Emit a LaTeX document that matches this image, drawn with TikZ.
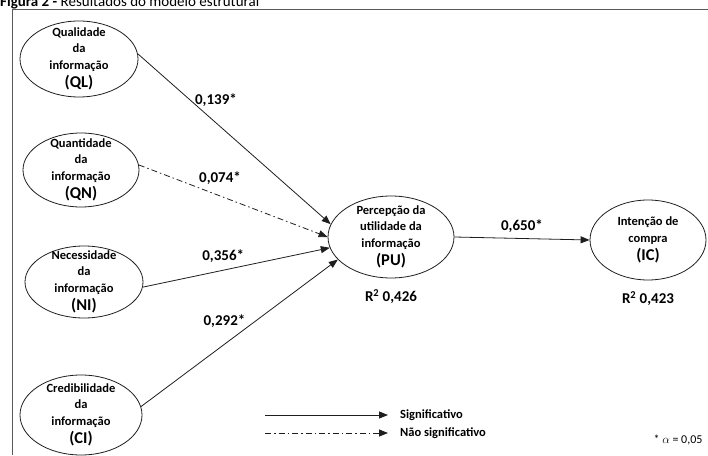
\documentclass[tikz,border=0pt]{standalone}
\usepackage{fontspec}
\setmainfont{Carlito}
\usepackage{tikz}
\usetikzlibrary{positioning,shapes.geometric,arrows.meta}
\definecolor{linegray}{HTML}{1E1E1E}
\definecolor{framegray}{HTML}{5A5A5A}
\newcommand{\abbr}[1]{{\fontsize{16.5}{18}\selectfont(#1)}}
\tikzset{
  % --- latent constructs (ellipses) ---
  construct/.style={ellipse, draw=linegray, line width=0.8pt, align=center,
                    font=\bfseries\fontsize{12.5}{16.5}\selectfont,
                    inner xsep=0pt, inner ysep=-9pt},
  % --- structural paths ---
  sig/.style={line width=0.8pt, draw=linegray,
              -{Triangle[length=9pt,width=7pt]}},
  nonsig/.style={sig, dash pattern=on 6pt off 3pt on 1.5pt off 3pt},
  coef/.style={font=\bfseries\fontsize{15}{17}\selectfont, inner sep=0pt},
  rsq/.style={font=\bfseries\fontsize{15}{17}\selectfont, inner sep=0pt},
  legtext/.style={font=\bfseries\fontsize{12.5}{14}\selectfont, inner sep=0pt},
}

\begin{document}
\begin{tikzpicture}[x=1pt, y=1pt]
  \useasboundingbox (0,0) rectangle (708,455);
  % --- title and frame ---
  \node[anchor=base west, inner sep=0pt, font=\fontsize{15}{17}\selectfont] (title)
        at (0,448) {\textbf{Figura 2 -} Resultados do modelo estrutural};
  \draw[framegray, line width=1pt] (12,0) -- (12,445) -- (708,445);

  % --- exogenous constructs (left column) ---
  \node[construct, minimum width=118pt, minimum height=76pt] (ql) at (79,396)
        {Qualidade\\da\\informação\\[2pt]\abbr{QL}};
  \node[construct, minimum width=116pt, minimum height=74pt] (qn) at (81,285)
        {Quantidade\\da\\informação\\[2pt]\abbr{QN}};
  \node[construct, minimum width=118pt, minimum height=72pt] (ni) at (84,173)
        {Necessidade\\da\\informação\\[2pt]\abbr{NI}};
  \node[construct, minimum width=122pt, minimum height=80pt] (ci) at (81,40)
        {Credibilidade\\da\\informação\\[2pt]\abbr{CI}};

  % --- endogenous constructs ---
  \node[construct, minimum width=126pt, minimum height=82pt] (pu) at (391,218)
        {Percepção da\\utilidade da\\informação\\[2pt]\abbr{PU}};
  \node[construct, minimum width=116pt, minimum height=80pt] (ic) at (648,215)
        {Intenção de\\compra\\[2pt]\abbr{IC}};
  \node[rsq, below=11pt of pu] (rpu) {R\textsuperscript{2} 0,426};
  \node[rsq, below=11pt of ic] (ric) {R\textsuperscript{2} 0,423};

  % --- paths into PU ---
  \draw[sig]    (ql.5)   -- (pu.168) node[coef, pos=0.405, yshift=23pt] {0,139*};
  \draw[nonsig] (qn.5)   -- (pu.180) node[coef, pos=0.43, yshift=18pt] {0,074*};
  \draw[sig]    (ni.355) -- (pu.190) node[coef, pos=0.43, yshift=14pt] {0,356*};
  \draw[sig]    (ci.8)   -- (pu.203) node[coef, pos=0.424, yshift=23pt] {0,292*};
  \draw[sig]    (pu.east) -- (ic.west) node[coef, pos=0.5, yshift=12pt] {0,650*};

  % --- legend ---
  \coordinate (l1) at (265,40);
  \coordinate (l2) at (265,22);
  \node[legtext, anchor=west] (lsig) at (400,40) {Significativo};
  \node[legtext, anchor=west] (lnon) at (400,22) {Não significativo};
  \draw[sig]    (l1) -- ([xshift=-12pt]lsig.west);
  \draw[nonsig] (l2) -- ([xshift=-12pt]lnon.west);
  \node[anchor=east, font=\fontsize{12}{14}\selectfont] (alpha) at (706,15)
        {* $\alpha$ = 0,05};
\end{tikzpicture}
\end{document}
